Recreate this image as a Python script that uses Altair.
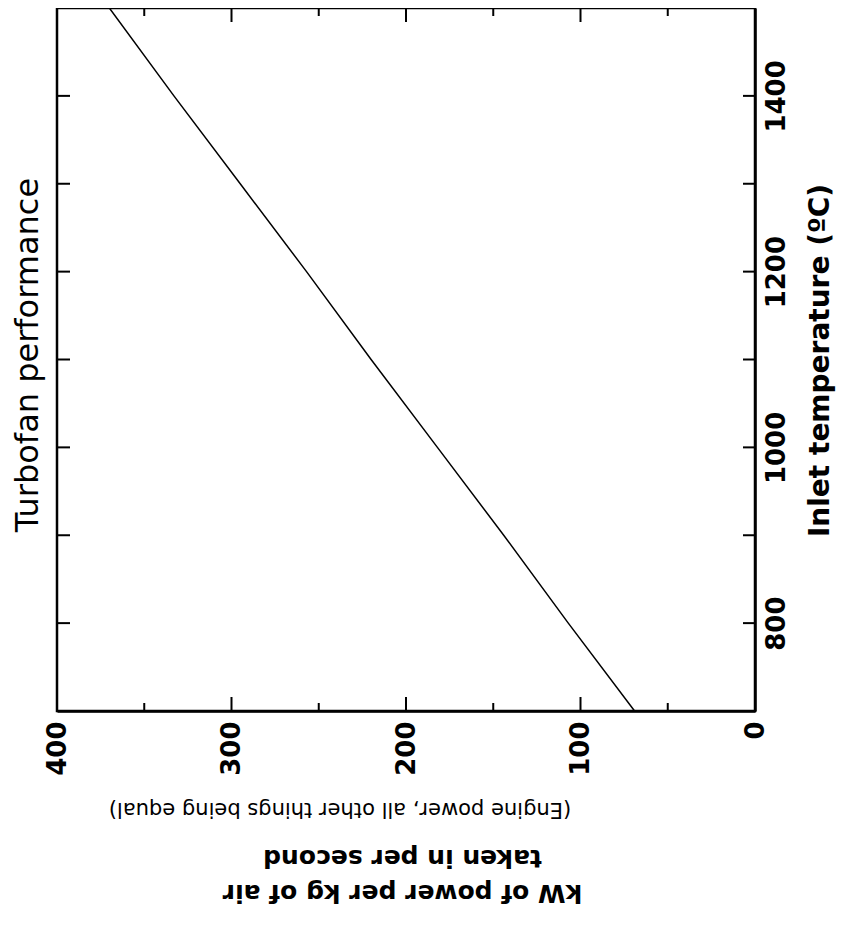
import altair as alt
import pandas as pd

# Data (inlet temperature in degC vs kW per kg/s of air)
temperature = [700, 800, 900, 1000, 1100, 1200, 1300, 1400, 1500]
power_kw = [69, 107, 144, 182, 220, 257, 295, 333, 370]

kw_major_ticks = [100, 200, 300]
kw_minor_ticks = [50, 150, 250, 350]
kw_labels = [0, 100, 200, 300, 400]
temp_ticks = [800, 900, 1000, 1100, 1200, 1300, 1400]
temp_labels = [800, 1000, 1200, 1400]

chart_title = "Turbofan performance"
x_title = ["kW of power per kg of air", "taken in per second"]
x_note = "(Engine power, all other things being equal)"
y_title = "Inlet temperature (ºC)"

W, H = 698, 703
FONT = "DejaVu Sans"

df = pd.DataFrame({"temp": temperature, "kW": power_kw})

x_scale = alt.Scale(domain=[0, 400], reverse=True, nice=False, zero=True)
y_scale = alt.Scale(domain=[700, 1500], nice=False, zero=False)

x_axis = alt.Axis(
    orient="bottom", values=kw_labels, format="d", grid=False,
    ticks=False, tickSize=0, labelFlush=False, labelOverlap=False,
    labelAngle=270, labelAlign="right", labelBaseline="middle",
    labelFont=FONT, labelFontWeight="bold", labelFontSize=26, labelColor="black",
    labelPadding=10,
    domainColor="black", domainWidth=2.5,
    title=x_title,
    titleFont=FONT, titleFontWeight="bold", titleFontSize=25, titleColor="black",
    titleAngle=180, titleAlign="center", titleBaseline="alphabetic",
    titleLineHeight=35, titleX=345, titleY=173,
)
y_axis = alt.Axis(
    orient="right", values=temp_labels, format="d", grid=False,
    ticks=False, tickSize=0, labelFlush=False, labelOverlap=False,
    labelAngle=270, labelAlign="center", labelBaseline="top",
    labelFont=FONT, labelFontWeight="bold", labelFontSize=26, labelColor="black",
    labelPadding=8,
    domainColor="black", domainWidth=2.5,
    title=y_title,
    titleFont=FONT, titleFontWeight="bold", titleFontSize=28, titleColor="black",
    titleAngle=270, titleAlign="center", titleBaseline="alphabetic",
    titleX=73, titleY=352,
)

X = alt.X("kW:Q", scale=x_scale, axis=x_axis)
Y = alt.Y("temp:Q", scale=y_scale, axis=y_axis)

line = alt.Chart(df).mark_line(color="black", strokeWidth=1.5).encode(x=X, y=Y)

major_df = pd.DataFrame({"kW": kw_major_ticks})
minor_df = pd.DataFrame({"kW": kw_minor_ticks})
temp_df = pd.DataFrame({"temp": temp_ticks})

rule_style = dict(color="black", strokeWidth=2)
bot_major = alt.Chart(major_df).mark_rule(**rule_style).encode(
    x=X, y=alt.value(H), y2=alt.value(H - 14))
bot_minor = alt.Chart(minor_df).mark_rule(**rule_style).encode(
    x=X, y=alt.value(H), y2=alt.value(H - 8))
top_major = alt.Chart(major_df).mark_rule(**rule_style).encode(
    x=X, y=alt.value(0), y2=alt.value(14))
top_minor = alt.Chart(minor_df).mark_rule(**rule_style).encode(
    x=X, y=alt.value(0), y2=alt.value(8))
left_t = alt.Chart(temp_df).mark_rule(**rule_style).encode(
    y=Y, x=alt.value(0), x2=alt.value(13))
right_t = alt.Chart(temp_df).mark_rule(**rule_style).encode(
    y=Y, x=alt.value(W), x2=alt.value(W - 12))

note = alt.Chart(pd.DataFrame({"t": [x_note]})).mark_text(
    font=FONT, fontSize=21, color="black", angle=180, align="center", baseline="middle"
).encode(text="t:N", x=alt.value(283), y=alt.value(801))

title_mark = alt.Chart(pd.DataFrame({"t": [chart_title]})).mark_text(
    font=FONT, fontSize=32, color="black", angle=270, align="center", baseline="alphabetic"
).encode(text="t:N", x=alt.value(-19), y=alt.value(347))

chart = alt.layer(
    line, bot_major, bot_minor, top_major, top_minor, left_t, right_t, note, title_mark
).properties(
    width=W, height=H,
    autosize=alt.AutoSizeParams(type="none"),
    padding={"left": 49, "top": 0, "right": 85, "bottom": 205},
    background="white",
).configure_view(stroke="black", strokeWidth=2.5)

chart.save("out.html", embed_options={"renderer": "svg", "actions": False})
